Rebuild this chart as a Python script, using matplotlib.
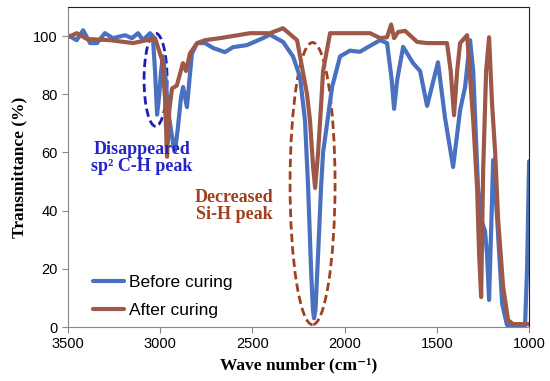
import matplotlib
matplotlib.use("Agg")
from matplotlib import pyplot as plt
from matplotlib.patches import Ellipse

# FTIR spectra (wave number in cm-1, transmittance in %)
wave_before = [3500, 3453, 3418, 3380, 3343, 3300, 3256, 3191, 3153, 3120, 3093, 3055, 3040,
               3028, 3017, 3005, 2995, 2985, 2970, 2958, 2930, 2920, 2905, 2887, 2876, 2855,
               2840, 2828, 2800, 2757, 2713, 2649, 2605, 2530, 2443, 2405, 2334, 2280, 2242,
               2215, 2198, 2182, 2172, 2166, 2158, 2144, 2128, 2117, 2068, 2025, 1971, 1917,
               1880, 1808, 1770, 1745, 1732, 1715, 1683, 1629, 1591, 1553, 1494, 1456, 1412,
               1374, 1347, 1320, 1303, 1277, 1255, 1239, 1228, 1217, 1205, 1195, 1173, 1146,
               1120, 1022, 1011, 1000]
trans_before = [100.3, 98.6, 102, 97.6, 97.6, 101, 99.3, 100.3, 99.3, 101, 98.6, 101, 100,
                88, 73, 80, 88, 93, 85, 74.6, 63, 60.5, 68, 79, 82.5, 75.6,
                86, 94, 97.6, 97.6, 95.9, 94.5, 96.2, 96.9, 99.3, 100.5, 98, 93, 86,
                71, 48, 19.6, 6, 3, 6, 25, 48, 60, 82.5, 93, 95, 94.6,
                96, 98.6, 97.6, 85, 75, 85, 96.3, 90.7, 88, 76, 91, 72, 55,
                74.6, 82.5, 98.6, 88, 48, 36, 33, 25, 9.3, 35, 57.4, 37, 8,
                0.7, 0.5, 20, 57]

wave_after = [3500, 3453, 3397, 3272, 3147, 3072, 3028, 2990, 2974, 2963, 2950, 2936, 2910,
              2877, 2860, 2839, 2800, 2757, 2676, 2513, 2405, 2334, 2258, 2204, 2188, 2171,
              2160, 2144, 2128, 2117, 2079, 1862, 1808, 1770, 1748, 1732, 1710, 1672, 1607,
              1553, 1466, 1445, 1425, 1407, 1390, 1374, 1336, 1303, 1282, 1271, 1260, 1249,
              1233, 1217, 1201, 1184, 1168, 1141, 1114, 1087, 1000]
trans_after = [99.6, 101, 99, 98.6, 97.6, 98.6, 99.3, 91.8, 79, 58.5, 75, 82, 83,
               90.7, 88, 94, 97.6, 98.6, 99.3, 101, 101, 102.7, 98.6, 80, 71, 55,
               47.8, 60, 76, 88, 101, 101, 99.3, 99.6, 104, 99.3, 101.4, 101.8, 98,
               97.6, 97.6, 97.6, 88, 72.8, 88, 97.6, 100.3, 71, 48, 25, 10.3, 54,
               88, 99.6, 77, 60, 37, 14, 2.4, 1, 1]

labels = ["Before curing", "After curing"]
y_ticks = [0, 20, 40, 60, 80, 100]
x_ticks = [3500, 3000, 2500, 2000, 1500, 1000]

blue = "#4A70C0"
brown = "#9E5848"

fig = plt.figure(figsize=(5.5, 3.81), dpi=100)
ax = fig.add_axes([0.1236, 0.1417, 0.8384, 0.8399])

ax.plot(wave_before, trans_before, color=blue, lw=3, label=labels[0],
        solid_joinstyle="round", solid_capstyle="round")
ax.plot(wave_after, trans_after, color=brown, lw=3, label=labels[1],
        solid_joinstyle="round", solid_capstyle="round")

# dashed ellipses marking the peaks
ax.add_patch(Ellipse((3025, 85), 125, 32, fill=False, ec="#1E1EB4", ls=(0, (3, 1.5)), lw=2))
ax.add_patch(Ellipse((2174, 49.3), 244, 97, fill=False, ec="#A0401E", ls=(0, (3, 1.5)), lw=2))

serif = ["Liberation Serif", "DejaVu Serif"]
ax.text(3100, 58, "Disappeared\nsp\u00b2 C-H peak", color="#2424C8", fontsize=13,
        fontweight="bold", family=serif, ha="center", va="center", linespacing=1.0)
ax.text(2600, 41.5, "Decreased\nSi-H peak", color="#A0401E", fontsize=13,
        fontweight="bold", family=serif, ha="center", va="center", linespacing=1.0)

ax.set_xlim(3500, 1000)
ax.set_ylim(0, 110)
ax.set_xticks(x_ticks)
ax.set_yticks(y_ticks)
ax.tick_params(labelsize=10.5, length=4, color="#888888")
for lab in ax.get_xticklabels() + ax.get_yticklabels():
    lab.set_family(["Liberation Sans", "DejaVu Sans"])

for side in ["left", "bottom"]:
    ax.spines[side].set_color("#888888")
for side in ["top", "right"]:
    ax.spines[side].set_color("#222222")

ax.set_xlabel("Wave number (cm\u207b\u00b9)", fontsize=12.5, fontweight="bold", family=serif)
ax.set_ylabel("Transmittance (%)", fontsize=12.5, fontweight="bold", family=serif)

ax.legend(loc="lower left", bbox_to_anchor=(0.02, -0.02), frameon=False, handlelength=1.8,
          handletextpad=0.3, prop={"family": ["Liberation Sans", "DejaVu Sans"], "size": 12.5},
          labelspacing=0.75)

plt.savefig("out.png", dpi=100)
